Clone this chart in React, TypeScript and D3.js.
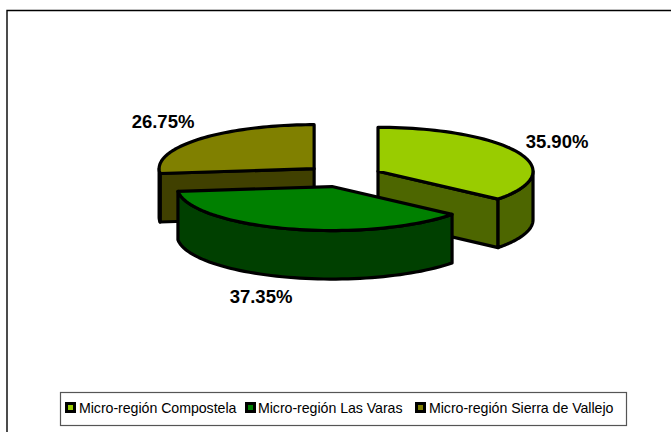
import React from 'react';
import * as d3 from 'd3';

const categories = ['Micro-región Compostela', 'Micro-región Las Varas', 'Micro-región Sierra de Vallejo'];
const values = [35.9, 37.35, 26.75];
const topColors = ['#99cc00', '#008000', '#808000'];
const wallColors = ['#4d6600', '#004000', '#404000'];
const labelPos = [[557, 143], [261, 298], [163, 123]];
const legendSwatchX = [65, 245, 415];
const legendTextX = [79, 258, 429];

const WIDTH = 671;
const HEIGHT = 432;
const CX = 343;
const CY = 176;
const RX = 155;
const RY = 44;
const DEPTH = 48.5;
const EXPLODE = 0.25;

const line = d3.line<[number, number]>();

export default function App() {
    const slices = d3.pie<number>().sort(null)(values);

    // angle is clockwise from 12 o'clock, squashed to an ellipse
    const pt = (a: number, ox: number, oy: number, r = 1): [number, number] => [
        ox + RX * r * Math.sin(a),
        oy - RY * r * Math.cos(a),
    ];
    const arcPts = (a0: number, a1: number, ox: number, oy: number) =>
        d3.range(0, 61).map((i) => pt(a0 + ((a1 - a0) * i) / 60, ox, oy));

    const drawOrder = [2, 0, 1];

    return (
        <svg
            width={WIDTH}
            height={HEIGHT}
            style={{ position: 'absolute', left: 0, top: 0, fontFamily: '"Liberation Sans", Arial, sans-serif' }}
        >
            <rect width={WIDTH} height={HEIGHT} fill="#fff" />
            <path d={`M7,${HEIGHT}V10.5H${WIDTH}`} fill="none" stroke="#000" strokeWidth={1.4} />

            {drawOrder.map((i) => {
                const s = slices[i];
                const mid = (s.startAngle + s.endAngle) / 2;
                const ox = CX + RX * EXPLODE * Math.sin(mid);
                const oy = CY - RY * EXPLODE * Math.cos(mid);
                const apex: [number, number] = [ox, oy];
                const down = (p: [number, number]): [number, number] => [p[0], p[1] + DEPTH];

                // radial wall, seen only when the cut faces the viewer
                const radial: [number, number][][] = [];
                if (i === 0) radial.push([apex, pt(s.endAngle, ox, oy), down(pt(s.endAngle, ox, oy)), down(apex)]);
                if (i === 2) radial.push([apex, pt(s.startAngle, ox, oy), down(pt(s.startAngle, ox, oy)), down(apex)]);

                // outer wall only for the part of the rim on the near side
                const a0 = Math.max(s.startAngle, Math.PI / 2);
                const a1 = Math.min(s.endAngle, (3 * Math.PI) / 2);
                const rim = a1 > a0 ? arcPts(a0, a1, ox, oy) : [];
                const outer = rim.length ? [...rim, ...rim.map(down).reverse()] : null;

                const top = [apex, ...arcPts(s.startAngle, s.endAngle, ox, oy)];

                return (
                    <g key={categories[i]} stroke="#000" strokeWidth={3.2} strokeLinejoin="round">
                        {radial.map((r, k) => (
                            <path key={k} d={line(r) + 'Z'} fill={wallColors[i]} />
                        ))}
                        {outer && <path d={line(outer) + 'Z'} fill={wallColors[i]} />}
                        <path d={line(top) + 'Z'} fill={topColors[i]} />
                    </g>
                );
            })}

            {values.map((v, i) => (
                <text
                    key={i}
                    x={labelPos[i][0]}
                    y={labelPos[i][1]}
                    textAnchor="middle"
                    dominantBaseline="middle"
                    fontSize={18.5}
                    fontWeight="bold"
                    fill="#000"
                >
                    {v.toFixed(2)}%
                </text>
            ))}

            <rect x={60.5} y={392.5} width={566} height={33} fill="#fff" stroke="#555" strokeWidth={1.2} />
            {categories.map((c, i) => (
                <g key={c}>
                    <rect x={legendSwatchX[i] + 1.5} y={403.5} width={8} height={8} fill={topColors[i]} stroke="#000" strokeWidth={3} />
                    <text x={legendTextX[i]} y={413} fontSize={14.2} letterSpacing={-0.05} fill="#000">
                        {c}
                    </text>
                </g>
            ))}
        </svg>
    );
}
